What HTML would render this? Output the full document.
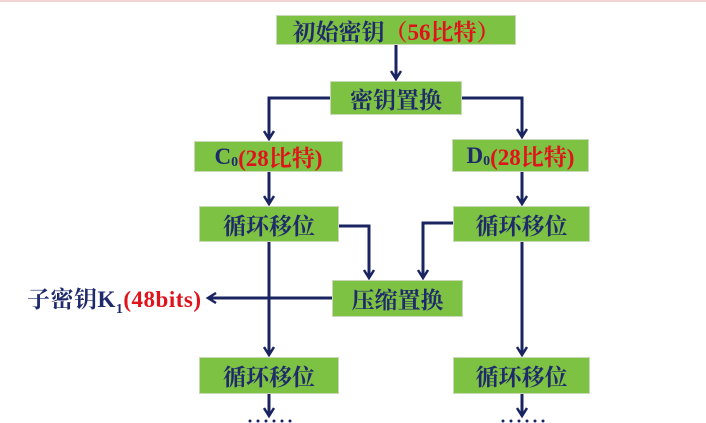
<!DOCTYPE html>
<html><head><meta charset="utf-8"><style>
body{margin:0;width:706px;height:423px;overflow:hidden;background:#fff;position:relative;font-family:"Liberation Serif","Noto Serif CJK SC","Noto Sans CJK SC",serif;}
.b{position:absolute;background:#7dc242;border:1px solid #c9d9b8;box-sizing:border-box;display:flex;align-items:center;justify-content:center;color:#1f2a6b;font-size:23px;font-weight:bold;white-space:nowrap;}
.r{color:#e0121b;}
.s{font-size:14px;position:relative;top:6px;}
svg{position:absolute;left:0;top:0;}
</style></head><body>
<div style="position:absolute;left:0;top:0;width:706px;height:2px;background:#f2d4d4"></div>
<svg width="706" height="423">
<defs><marker id="a" markerWidth="12" markerHeight="12" refX="9" refY="6" orient="auto" markerUnits="userSpaceOnUse"><path d="M1,1 L9,6 L1,11" fill="none" stroke="#1a2460" stroke-width="2.5"/></marker></defs>
<g stroke="#1a2460" stroke-width="3" fill="none">
<path d="M396,45 V79" marker-end="url(#a)"/>
<path d="M330,98 H269 V139" marker-end="url(#a)"/>
<path d="M462,98 H522 V137" marker-end="url(#a)"/>
<path d="M269,172 V204" marker-end="url(#a)"/>
<path d="M522,172 V204" marker-end="url(#a)"/>
<path d="M339,226 H369 V278" marker-end="url(#a)"/>
<path d="M453,223 H423 V278" marker-end="url(#a)"/>
<path d="M269,242 V355" marker-end="url(#a)"/>
<path d="M522,242 V355" marker-end="url(#a)"/>
<path d="M332,298 H208" marker-end="url(#a)"/>
<path d="M269,394 V416" marker-end="url(#a)"/>
<path d="M522,394 V416" marker-end="url(#a)"/>
</g>
<g fill="#1a2460"><circle cx="250" cy="421" r="1.5"/><circle cx="258" cy="421" r="1.5"/><circle cx="266" cy="421" r="1.5"/><circle cx="274" cy="421" r="1.5"/><circle cx="282" cy="421" r="1.5"/><circle cx="290" cy="421" r="1.5"/>
<circle cx="503" cy="421" r="1.5"/><circle cx="511" cy="421" r="1.5"/><circle cx="519" cy="421" r="1.5"/><circle cx="527" cy="421" r="1.5"/><circle cx="535" cy="421" r="1.5"/><circle cx="543" cy="421" r="1.5"/></g>
</svg>
<div class="b" style="left:276px;top:15px;width:240px;height:30px">初始密钥<span class="r">（56比特）</span></div>
<div class="b" style="left:330px;top:81px;width:132px;height:34px">密钥置换</div>
<div class="b" style="left:194px;top:141px;width:149px;height:31px">C<span class="s">0</span><span class="r">(28比特)</span></div>
<div class="b" style="left:452px;top:139px;width:137px;height:33px">D<span class="s">0</span><span class="r">(28比特)</span></div>
<div class="b" style="left:199px;top:206px;width:140px;height:36px">循环移位</div>
<div class="b" style="left:453px;top:206px;width:137px;height:36px">循环移位</div>
<div class="b" style="left:332px;top:280px;width:131px;height:37px">压缩置换</div>
<div class="b" style="left:199px;top:357px;width:140px;height:37px">循环移位</div>
<div class="b" style="left:453px;top:357px;width:137px;height:37px">循环移位</div>
<div style="position:absolute;left:27px;top:281px;font-size:23px;font-weight:bold;color:#1f2a6b;white-space:nowrap;letter-spacing:0.5px">子密钥K<span class="s">1</span><span class="r">(48bits)</span></div>
</body></html>
